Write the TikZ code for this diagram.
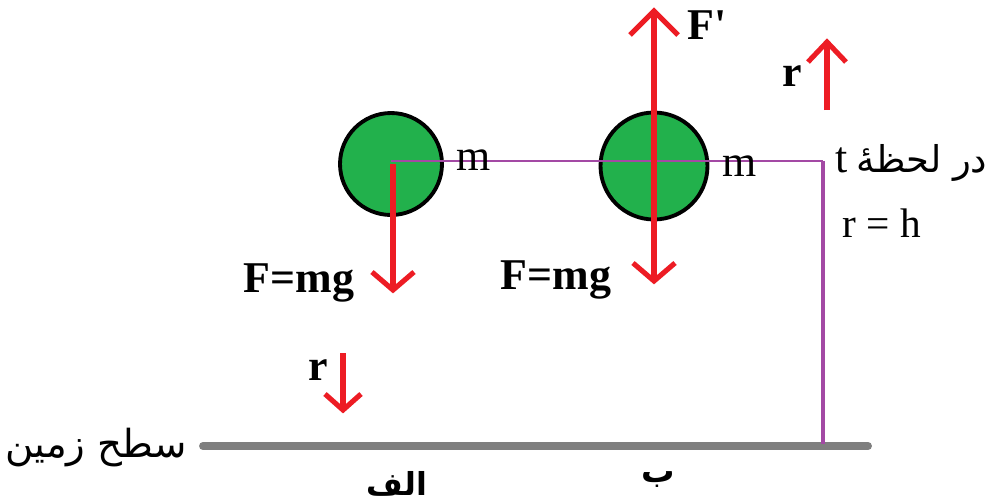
\documentclass[tikz,border=0pt]{standalone}
\usepackage{fontspec}
\setmainfont{Liberation Serif}
\newfontfamily\arabicfont[Script=Arabic]{DejaVu Sans}
\TeXXeTstate=1
\definecolor{ballgreen}{HTML}{22B14C}
\definecolor{arrred}{HTML}{ED1C24}
\definecolor{linepurple}{HTML}{A349A4}
\definecolor{groundgray}{HTML}{7F7F7F}
\begin{document}
\begin{tikzpicture}[x=0.02cm,y=-0.02cm,
  ball/.style={circle,draw=black,fill=ballgreen,line width=2.2pt,inner sep=0pt},
  redline/.style={draw=arrred,line width=2.9pt},
  chev/.style={draw=arrred,line width=2.9pt,line join=miter},
  lbl/.style={inner sep=0pt,font=\fontsize{25}{28}\selectfont},
  blbl/.style={inner sep=0pt,font=\fontsize{25}{28}\selectfont\bfseries},
  albl/.style={inner sep=0pt,font=\fontsize{21}{24}\selectfont\arabicfont}]
\useasboundingbox (0,0) rectangle (988,501);
\fill[white] (0,0) rectangle (988,501);
% balls
\node[ball,minimum size=2.04cm] (b1) at (391,164) {};
\node[ball,minimum size=2.14cm] (b2) at (654,166) {};
% ground
\coordinate (gw) at (203,446);
\coordinate (ge) at (868,446);
\draw[groundgray,line width=4.5pt,line cap=round] (gw) -- (ge);
% purple frame
\coordinate (pa) at (391,161);
\coordinate (pc) at (823,161);
\coordinate (pg) at (823,444);
\draw[linepurple,line width=1.2pt] (pa) -- (pc);
\draw[linepurple,line width=1.8pt] (pc) -- (pg);
% arrows ball 1
\coordinate (b1s) at (393,164);
\coordinate (b1t) at (393,290);
\draw[redline] (b1s) -- (b1t);
\draw[chev] (b1t) ++(-21,-18) -- (b1t) -- ++(21,-18);
% arrows ball 2
\coordinate (b2up) at (654,11);
\coordinate (b2dn) at (654,281);
\draw[redline] (b2up) -- (b2dn);
\draw[chev] (b2up) ++(-24,24) -- (b2up) -- ++(24,24);
\draw[chev] (b2dn) ++(-21,-18) -- (b2dn) -- ++(21,-18);
% r up arrow
\coordinate (ru0) at (827,110);
\coordinate (ru1) at (827,42);
\draw[redline] (ru0) -- (ru1);
\draw[chev] (ru1) ++(-19,20) -- (ru1) -- ++(19,20);
% r down arrow
\coordinate (rd0) at (343,353);
\coordinate (rd1) at (343,410);
\draw[redline] (rd0) -- (rd1);
\draw[chev] (rd1) ++(-18,-16) -- (rd1) -- ++(18,-16);
% labels
\node[blbl] (fp) at (707,25) {F\textquotesingle};
\node[blbl] (rup) at (792,76) {r};
\node[blbl] (rdn) at (318,370) {r};
\node[blbl] (fmg1) at (299,283) {F=mg};
\node[blbl] (fmg2) at (556,280) {F=mg};
\node[lbl] (m1) at (474,160) {m};
\node[lbl] (m2) at (740,166) {m};
\node[lbl,anchor=base] (tl) at (842,172) {t};
\node[albl,anchor=base west] (dar) at (856,172) {\beginR در لحظهٔ\endR};
\node[lbl,font=\fontsize{23.5}{26}\selectfont] (rh) at (882,223) {r = h};
\node[albl,font=\fontsize{22}{26}\selectfont\arabicfont] (sat) at (96,448) {\beginR سطح زمین\endR};
\node[albl,font=\fontsize{18}{22}\selectfont\bfseries\arabicfont] (alef) at (397,484) {\beginR الف\endR};
\node[albl,font=\fontsize{19}{22}\selectfont\bfseries\arabicfont] (be) at (658,480) {\beginR ب\endR};
\end{tikzpicture}
\end{document}
